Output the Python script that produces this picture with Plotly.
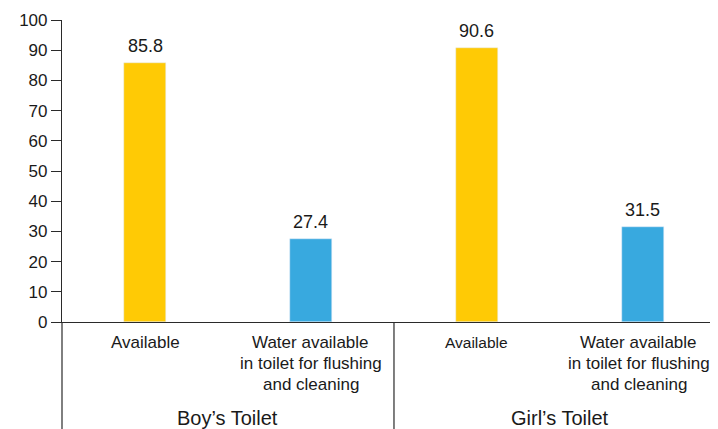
import plotly.graph_objects as go

groups = ["Boy’s Toilet", "Girl’s Toilet"]
categories = ["Available", "Water available<br>in toilet for flushing<br>and cleaning"]
available = [85.8, 90.6]
water = [27.4, 31.5]
y_ticks = [0, 10, 20, 30, 40, 50, 60, 70, 80, 90, 100]

YELLOW = "#FFCA05"
BLUE = "#38A9DF"
AXIS = "#2a2a2a"
TXT = "#1a1a1a"
FONT = "Liberation Sans, Arial, sans-serif"

n_cat = len(categories)
x_avail = [g * n_cat + 0 for g in range(len(groups))]
x_water = [g * n_cat + 1 for g in range(len(groups))]
x_min, x_max = -0.5, 3.452
bar_w = 0.253

fig = go.Figure()
fig.add_trace(go.Bar(x=x_avail, y=available, width=bar_w, marker_color=YELLOW))
fig.add_trace(go.Bar(x=x_water, y=water, width=bar_w, marker_color=BLUE))

annotations = []
for xs, vals in ((x_avail, available), (x_water, water)):
    for xv, v in zip(xs, vals):
        annotations.append(dict(x=xv, y=v, xref="x", yref="y", yanchor="bottom",
                                yshift=5, text=f"{v:.1f}", showarrow=False,
                                font=dict(size=18, color=TXT, family=FONT)))

for g, gname in enumerate(groups):
    for c, cname in enumerate(categories):
        size = 17
        shift0 = -9
        xshift = 0
        if g == 1 and c == 0:
            size = 15.5
            shift0 = -10
        if g == len(groups) - 1 and c == n_cat - 1:
            xshift = -4
        for i, line in enumerate(cname.split("<br>")):
            annotations.append(dict(x=g * n_cat + c, y=0, xref="x", yref="paper",
                                    yanchor="top", yshift=shift0 - i * 20.8,
                                    xshift=xshift, text=line, showarrow=False,
                                    font=dict(size=size, color=TXT, family=FONT)))
    annotations.append(dict(x=g * n_cat + (n_cat - 1) / 2, y=0, xref="x", yref="paper",
                            yanchor="top", yshift=-83, text=gname, showarrow=False,
                            font=dict(size=20, color=TXT, family=FONT)))

def to_paper(xv):
    return (xv - x_min) / (x_max - x_min)

shapes = []
for g in range(len(groups)):
    xv = g * n_cat - 0.5
    shapes.append(dict(type="line", xref="paper", yref="paper",
                       x0=to_paper(xv), x1=to_paper(xv), y0=0, y1=-0.4,
                       line=dict(color=AXIS, width=1.2)))

fig.update_layout(
    width=710, height=421,
    margin=dict(l=54, r=0, t=12, b=107),
    paper_bgcolor="white", plot_bgcolor="white",
    showlegend=False, bargap=0,
    annotations=annotations, shapes=shapes,
    font=dict(family=FONT, color=TXT),
)
fig.update_xaxes(range=[x_min, x_max], showticklabels=False, showgrid=False,
                 zeroline=False, showline=True, linecolor=AXIS, linewidth=1.2, ticks="")
fig.update_yaxes(range=[0, 100], tickvals=y_ticks, showgrid=False, zeroline=False,
                 showline=True, linecolor=AXIS, linewidth=1.2, ticks="outside",
                 ticklen=10, tickcolor=AXIS, tickwidth=1.2,
                 tickfont=dict(size=17, color=TXT, family=FONT))

fig.write_html("out.html")
